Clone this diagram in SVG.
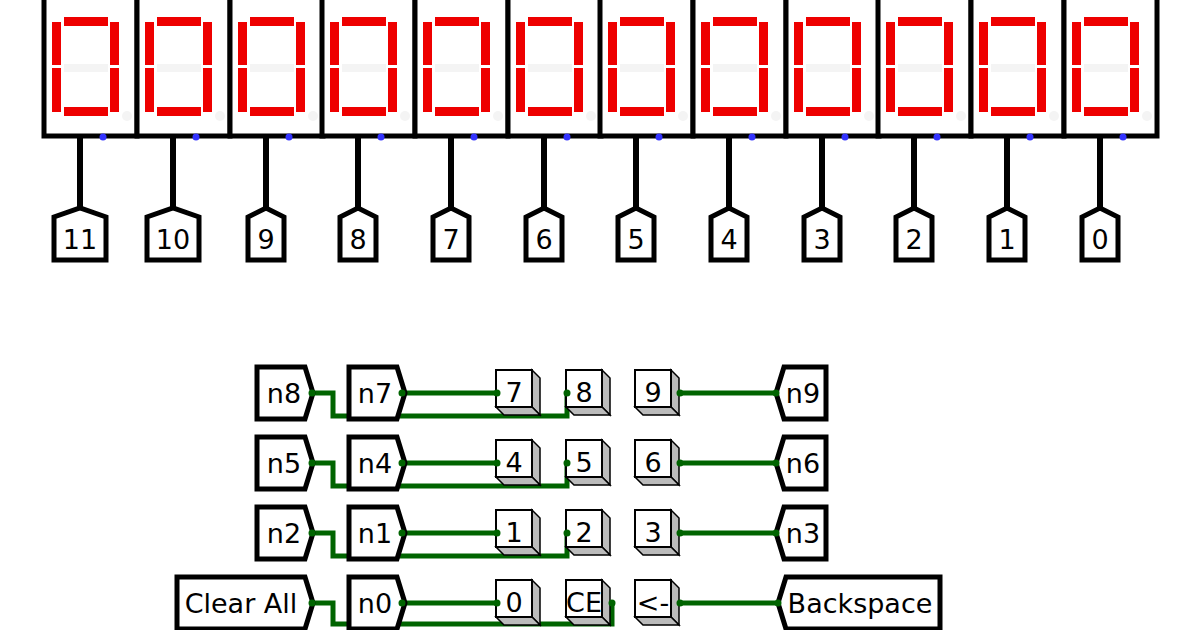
<svg xmlns="http://www.w3.org/2000/svg" width="1200" height="630" viewBox="0 0 1200 630">
<style>
.box{fill:#fff;stroke:#000;stroke-width:5}
.seg{fill:#e00}
.off{fill:#f4f4f4}
.pin{fill:#fff;stroke:#000;stroke-width:5;stroke-linejoin:miter}
.stem{stroke:#000;stroke-width:6}
.t{font-family:"DejaVu Sans",sans-serif;font-size:27px;fill:#000}
.w{fill:none;stroke:#006400;stroke-width:5}
.btn{fill:#fff;stroke:#000;stroke-width:2}
.sh{fill:#bbb;stroke:#000;stroke-width:1.5}
.tun{fill:#fff;stroke:#000;stroke-width:5}
</style>
<defs>
<g id="disp">
<rect class="box" x="0" y="-4" width="93" height="140"/>
<rect class="seg" x="20" y="17" width="44" height="9"/>
<rect class="seg" x="8" y="22" width="9" height="43"/>
<rect class="seg" x="66" y="22" width="9" height="43"/>
<rect class="off" x="20" y="64" width="44" height="8"/>
<rect class="seg" x="8" y="68" width="9" height="44"/>
<rect class="seg" x="66" y="68" width="9" height="44"/>
<rect class="seg" x="20" y="107" width="44" height="9"/>
<circle class="off" cx="83" cy="116" r="5"/>
<line class="stem" x1="36" y1="136" x2="36" y2="210"/>
<circle cx="59" cy="137" r="3.5" fill="#33f"/>
</g>
<g id="btn">
<polygon class="sh" points="36,0 44,8 44,45 36,37"/>
<polygon class="sh" points="0,37 36,37 44,45 8,45"/>
<rect class="btn" x="0" y="0" width="36" height="37"/>
</g>
</defs>
<g id="displays">
<use href="#disp" x="44"/><use href="#disp" x="137"/><use href="#disp" x="230"/><use href="#disp" x="322"/>
<use href="#disp" x="415"/><use href="#disp" x="508"/><use href="#disp" x="600"/><use href="#disp" x="693"/>
<use href="#disp" x="786"/><use href="#disp" x="878"/><use href="#disp" x="971"/><use href="#disp" x="1064"/>
</g>
<g id="pins">
<g id="p11"><polygon class="pin" points="54,260 54,217 80,208 106,217 106,260"/><text class="t" x="80" y="249" text-anchor="middle">11</text></g>
<g id="p10"><polygon class="pin" points="147,260 147,217 173,208 199,217 199,260"/><text class="t" x="173" y="249" text-anchor="middle">10</text></g>
<g id="p9"><polygon class="pin" points="248,260 248,217 266,208 284,217 284,260"/><text class="t" x="266" y="249" text-anchor="middle">9</text></g>
<g id="p8"><polygon class="pin" points="340,260 340,217 358,208 376,217 376,260"/><text class="t" x="358" y="249" text-anchor="middle">8</text></g>
<g id="p7"><polygon class="pin" points="433,260 433,217 451,208 469,217 469,260"/><text class="t" x="451" y="249" text-anchor="middle">7</text></g>
<g id="p6"><polygon class="pin" points="526,260 526,217 544,208 562,217 562,260"/><text class="t" x="544" y="249" text-anchor="middle">6</text></g>
<g id="p5"><polygon class="pin" points="618,260 618,217 636,208 654,217 654,260"/><text class="t" x="636" y="249" text-anchor="middle">5</text></g>
<g id="p4"><polygon class="pin" points="711,260 711,217 729,208 747,217 747,260"/><text class="t" x="729" y="249" text-anchor="middle">4</text></g>
<g id="p3"><polygon class="pin" points="804,260 804,217 822,208 840,217 840,260"/><text class="t" x="822" y="249" text-anchor="middle">3</text></g>
<g id="p2"><polygon class="pin" points="896,260 896,217 914,208 932,217 932,260"/><text class="t" x="914" y="249" text-anchor="middle">2</text></g>
<g id="p1"><polygon class="pin" points="989,260 989,217 1007,208 1025,217 1025,260"/><text class="t" x="1007" y="249" text-anchor="middle">1</text></g>
<g id="p0"><polygon class="pin" points="1082,260 1082,217 1100,208 1118,217 1118,260"/><text class="t" x="1100" y="249" text-anchor="middle">0</text></g>
</g>
<g id="connectors">
<path class="w" d="M312,393H333V416H567V393"/><path class="w" d="M402,393H497"/><path class="w" d="M680,393H776"/>
<path class="w" d="M312,463H333V486H567V463"/><path class="w" d="M402,463H497"/><path class="w" d="M680,463H776"/>
<path class="w" d="M312,533H333V556H567V533"/><path class="w" d="M402,533H497"/><path class="w" d="M680,533H776"/>
<path class="w" d="M312,603H333V624H612V603"/><path class="w" d="M402,603H497"/><path class="w" d="M680,603H778"/>
</g>
<g id="tunnels">
<g id="n8"><polygon class="tun" points="257,367 305,367 313,393 305,419 257,419"/><text class="t" x="284" y="403" text-anchor="middle">n8</text></g>
<g id="n7"><polygon class="tun" points="349,367 397,367 405,393 397,419 349,419"/><text class="t" x="375" y="403" text-anchor="middle">n7</text></g>
<g id="n5"><polygon class="tun" points="257,437 305,437 313,463 305,489 257,489"/><text class="t" x="284" y="473" text-anchor="middle">n5</text></g>
<g id="n4"><polygon class="tun" points="349,437 397,437 405,463 397,489 349,489"/><text class="t" x="375" y="473" text-anchor="middle">n4</text></g>
<g id="n2"><polygon class="tun" points="257,507 305,507 313,533 305,559 257,559"/><text class="t" x="284" y="543" text-anchor="middle">n2</text></g>
<g id="n1"><polygon class="tun" points="349,507 397,507 405,533 397,559 349,559"/><text class="t" x="375" y="543" text-anchor="middle">n1</text></g>
<g id="clearall"><polygon class="tun" points="177,577 305,577 313,603 305,629 177,629"/><text class="t" x="241" y="613" text-anchor="middle">Clear All</text></g>
<g id="n0"><polygon class="tun" points="349,577 397,577 405,603 397,629 349,629"/><text class="t" x="375" y="613" text-anchor="middle">n0</text></g>
<g id="n9"><polygon class="tun" points="784,367 826,367 826,419 784,419 776,393"/><text class="t" x="803" y="403" text-anchor="middle">n9</text></g>
<g id="n6"><polygon class="tun" points="784,437 826,437 826,489 784,489 776,463"/><text class="t" x="803" y="473" text-anchor="middle">n6</text></g>
<g id="n3"><polygon class="tun" points="784,507 826,507 826,559 784,559 776,533"/><text class="t" x="803" y="543" text-anchor="middle">n3</text></g>
<g id="backspace"><polygon class="tun" points="786,577 940,577 940,629 786,629 778,603"/><text class="t" x="860" y="613" text-anchor="middle">Backspace</text></g>
</g>
<g id="buttons">
<g id="b7"><use href="#btn" x="496" y="370"/><text class="t" x="514" y="402" text-anchor="middle">7</text></g>
<g id="b8"><use href="#btn" x="566" y="370"/><text class="t" x="584" y="402" text-anchor="middle">8</text></g>
<g id="b9"><use href="#btn" x="635" y="370"/><text class="t" x="653" y="402" text-anchor="middle">9</text></g>
<g id="b4"><use href="#btn" x="496" y="440"/><text class="t" x="514" y="472" text-anchor="middle">4</text></g>
<g id="b5"><use href="#btn" x="566" y="440"/><text class="t" x="584" y="472" text-anchor="middle">5</text></g>
<g id="b6"><use href="#btn" x="635" y="440"/><text class="t" x="653" y="472" text-anchor="middle">6</text></g>
<g id="b1"><use href="#btn" x="496" y="510"/><text class="t" x="514" y="542" text-anchor="middle">1</text></g>
<g id="b2"><use href="#btn" x="566" y="510"/><text class="t" x="584" y="542" text-anchor="middle">2</text></g>
<g id="b3"><use href="#btn" x="635" y="510"/><text class="t" x="653" y="542" text-anchor="middle">3</text></g>
<g id="b0"><use href="#btn" x="496" y="580"/><text class="t" x="514" y="612" text-anchor="middle">0</text></g>
<g id="bce"><use href="#btn" x="566" y="580"/><text class="t" x="584" y="612" text-anchor="middle">CE</text></g>
<g id="bbs"><use href="#btn" x="635" y="580"/><text class="t" x="653" y="612" text-anchor="middle">&lt;-</text></g>
</g>
<g id="dots" fill="#006400">
<circle cx="312" cy="393" r="3.5"/><circle cx="402" cy="393" r="3.5"/><circle cx="497" cy="393" r="3.5"/><circle cx="567" cy="393" r="3.5"/><circle cx="680" cy="393" r="3.5"/><circle cx="776" cy="393" r="3.5"/>
<circle cx="312" cy="463" r="3.5"/><circle cx="402" cy="463" r="3.5"/><circle cx="497" cy="463" r="3.5"/><circle cx="567" cy="463" r="3.5"/><circle cx="680" cy="463" r="3.5"/><circle cx="776" cy="463" r="3.5"/>
<circle cx="312" cy="533" r="3.5"/><circle cx="402" cy="533" r="3.5"/><circle cx="497" cy="533" r="3.5"/><circle cx="567" cy="533" r="3.5"/><circle cx="680" cy="533" r="3.5"/><circle cx="776" cy="533" r="3.5"/>
<circle cx="312" cy="603" r="3.5"/><circle cx="402" cy="603" r="3.5"/><circle cx="497" cy="603" r="3.5"/><circle cx="612" cy="603" r="3.5"/><circle cx="680" cy="603" r="3.5"/><circle cx="778" cy="603" r="3.5"/>
</g>
</svg>
